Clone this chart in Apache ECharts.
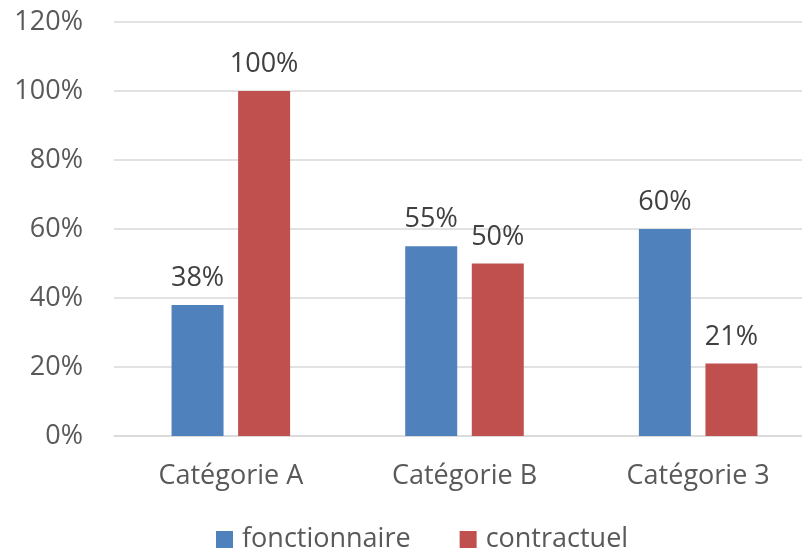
<!DOCTYPE html>
<html>
<head>
<meta charset="utf-8">
<script src="https://cdn.jsdelivr.net/npm/echarts@6/dist/echarts.min.js"></script>
<style>
  html, body { margin: 0; padding: 0; background: #ffffff; overflow: hidden; width: 802px; height: 550px; }
  /* the plot runs a little past the right edge of the page */
  #chart { width: 815px; height: 550px; }
</style>
</head>
<body>
<div id="chart"></div>
<script>
// Share of staff by category and contract type
const categories = ['Catégorie A', 'Catégorie B', 'Catégorie 3'];
const fonctionnaire = [0.38, 0.55, 0.60];
const contractuel = [1.00, 0.50, 0.21];
const yTicks = { min: 0, max: 1.2, step: 0.2 };

const FONT = '"Open Sans", sans-serif';
const TEXT = '#595959';
const SIZE = 27;
const pct = v => Math.round(v * 100) + '%';

const chart = echarts.init(document.getElementById('chart'), null, { renderer: 'canvas' });

const labelStyle = {
  show: true,
  position: 'top',
  distance: 13,
  formatter: p => pct(p.value),
  fontFamily: FONT,
  fontSize: SIZE,
  color: '#404040'
};

chart.setOption({
  animation: false,
  backgroundColor: '#ffffff',
  textStyle: { fontFamily: FONT },
  grid: { left: 114, right: 0, top: 22, bottom: 114 },
  legend: {
    top: 521,
    left: 211,
    itemWidth: 17,
    itemHeight: 17,
    itemGap: 49,
    icon: 'rect',
    textStyle: { fontFamily: FONT, fontSize: SIZE, color: TEXT, padding: [0, 0, 0, 4] },
    data: ['fonctionnaire', 'contractuel']
  },
  xAxis: {
    type: 'category',
    data: categories,
    axisLine: { lineStyle: { color: '#D9D9D9', width: 1.5 } },
    axisTick: { show: false },
    axisLabel: { margin: 27, fontFamily: FONT, fontSize: SIZE, color: TEXT }
  },
  yAxis: {
    type: 'value',
    min: yTicks.min,
    max: yTicks.max,
    interval: yTicks.step,
    axisLine: { show: false },
    axisTick: { show: false },
    splitLine: { lineStyle: { color: '#D9D9D9', width: 1.5 } },
    axisLabel: { margin: 31, fontFamily: FONT, fontSize: SIZE, color: TEXT, formatter: v => pct(v) }
  },
  series: [
    {
      name: 'fonctionnaire',
      type: 'bar',
      data: fonctionnaire,
      barWidth: 52,
      barGap: '28%',
      itemStyle: { color: '#4F81BD' },
      label: labelStyle
    },
    {
      name: 'contractuel',
      type: 'bar',
      data: contractuel,
      barWidth: 52,
      barGap: '28%',
      itemStyle: { color: '#C0504D' },
      label: labelStyle
    }
  ]
});
</script>
</body>
</html>
